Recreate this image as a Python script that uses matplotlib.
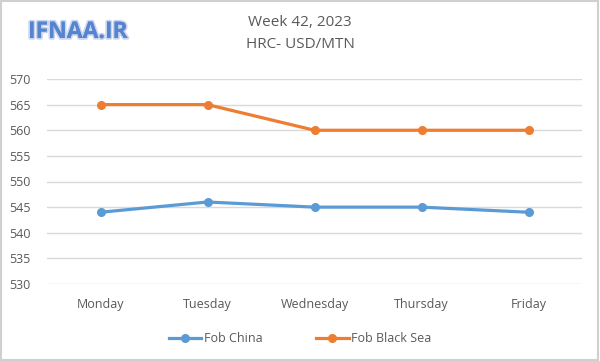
import matplotlib.pyplot as plt
import matplotlib.patheffects as pe
from matplotlib.patches import Rectangle

days = ['Monday', 'Tuesday', 'Wednesday', 'Thursday', 'Friday']
fob_china = [544, 546, 545, 545, 544]
fob_black_sea = [565, 565, 560, 560, 560]
yticks = [530, 535, 540, 545, 550, 555, 560, 565, 570]

blue = '#5B9BD5'
orange = '#ED7D31'
txt = '#595959'

plt.rcParams['font.family'] = ['Open Sans', 'DejaVu Sans']

fig = plt.figure(figsize=(6, 3.61), dpi=100)
ax = fig.add_axes([47 / 600, 1 - 284 / 361, (582 - 47) / 600, (284 - 79) / 361])

x = list(range(len(days)))
ax.plot(x, fob_china, color=blue, lw=2.3, marker='o', ms=5.5, label='Fob China')
ax.plot(x, fob_black_sea, color=orange, lw=2.3, marker='o', ms=5.5, label='Fob Black Sea')

ax.set_xlim(-0.5, 4.5)
ax.set_ylim(530, 570)
ax.set_yticks(yticks)
ax.set_xticks(x)
ax.set_xticklabels(days)
ax.grid(axis='y', color='#D9D9D9', lw=1)
ax.set_axisbelow(True)
for s in ax.spines.values():
    s.set_visible(False)
ax.tick_params(length=0, labelsize=9, colors=txt, pad=12)
ax.tick_params(axis='x', pad=10)

leg = ax.legend(loc='center', bbox_to_anchor=(0.5, (361 - 339) / 361), bbox_transform=fig.transFigure,
                ncol=2, frameon=False, fontsize=9, handlelength=2.6, columnspacing=4.3, handletextpad=0.2)
for t in leg.get_texts():
    t.set_color(txt)

fig.text(0.5, 1 - 23 / 361, 'Week 42, 2023', ha='center', va='center', fontsize=11, color=txt)
fig.text(0.5, 1 - 45 / 361, 'HRC- USD/MTN', ha='center', va='center', fontsize=11, color=txt)

fig.text(28 / 600, 1 - 32 / 361, 'IFNAA.IR', ha='left', va='center', fontsize=16.5, fontweight='bold',
         color='#5684D0',
         path_effects=[pe.withStroke(linewidth=2.5, foreground='#C9D6EE'),
                       pe.SimpleLineShadow(offset=(1.5, -1.5), shadow_color='#8A8A8A', alpha=0.6),
                       pe.Normal()])

fig.patches.append(Rectangle((0.002, 0.003), 0.995, 0.993, transform=fig.transFigure,
                             fill=False, edgecolor='#D0D0D0', lw=1.5))

fig.savefig('out.png', dpi=100)
